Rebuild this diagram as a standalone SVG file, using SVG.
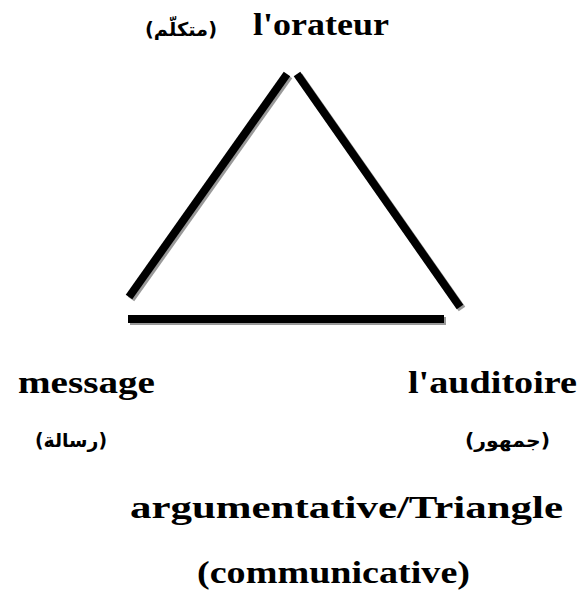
<svg xmlns="http://www.w3.org/2000/svg" width="579" height="612" viewBox="0 0 579 612">
<style>
.lbl{font-family:"Liberation Serif","Times New Roman",serif;font-weight:bold;fill:#000}
.big{font-size:31px}
.ar{font-family:"DejaVu Sans","Noto Sans",sans-serif;font-weight:bold;font-size:19px}
.edge{stroke:#000;stroke-width:8;fill:none}
.shadow{stroke:#999;stroke-width:8;fill:none}
</style>
<rect width="579" height="612" fill="#fff"/>
<g id="connectors">
<g transform="translate(2,2)">
<line class="shadow" x1="129" y1="297" x2="287" y2="74"/>
<line class="shadow" x1="297" y1="74" x2="460" y2="307"/>
<line class="shadow" x1="128" y1="319" x2="444" y2="319"/>
</g>
<line class="edge" x1="129" y1="297" x2="287" y2="74"/>
<line class="edge" x1="297" y1="74" x2="460" y2="307"/>
<line class="edge" x1="128" y1="319" x2="444" y2="319"/>
</g>
<g id="orateur">
<text class="lbl big" x="253" y="35" textLength="136" lengthAdjust="spacingAndGlyphs">l'orateur</text>
<text class="lbl ar" x="145" y="36" textLength="72" lengthAdjust="spacingAndGlyphs">(متكلّم)</text>
</g>
<g id="message">
<text class="lbl big" x="18" y="393" textLength="137" lengthAdjust="spacingAndGlyphs">message</text>
<text class="lbl ar" x="35" y="447" textLength="72" lengthAdjust="spacingAndGlyphs">(رسالة)</text>
</g>
<g id="auditoire">
<text class="lbl big" x="408" y="393" textLength="169" lengthAdjust="spacingAndGlyphs">l'auditoire</text>
<text class="lbl ar" x="465" y="447" textLength="85" lengthAdjust="spacingAndGlyphs">(جمهور)</text>
</g>
<g id="title">
<text class="lbl big" x="130" y="518" textLength="433" lengthAdjust="spacingAndGlyphs">argumentative/Triangle</text>
<text class="lbl big" x="197" y="583" textLength="273" lengthAdjust="spacingAndGlyphs">(communicative)</text>
</g>
</svg>
